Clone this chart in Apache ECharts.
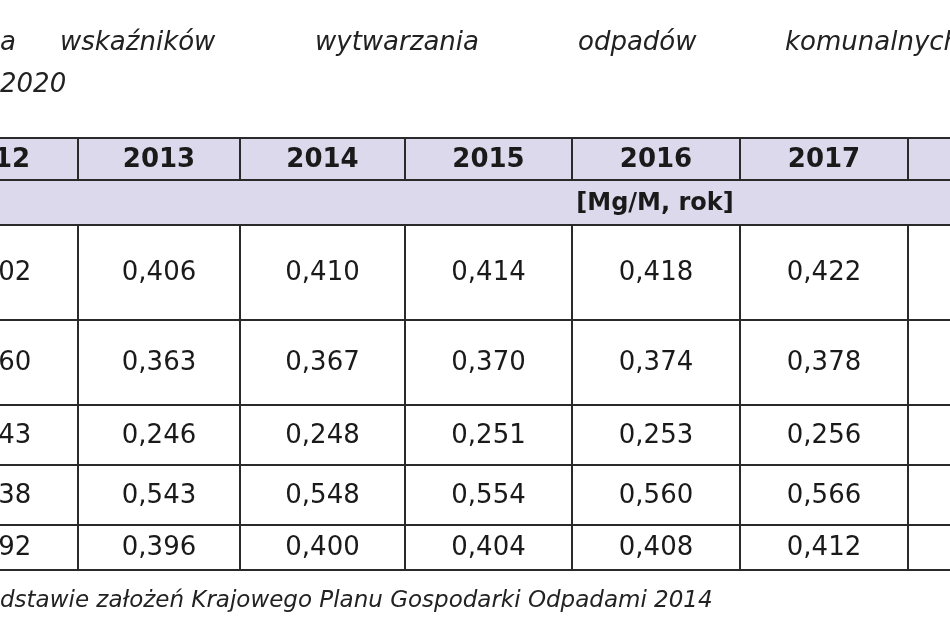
<!DOCTYPE html>
<html><head><meta charset="utf-8">
<script src="https://cdn.jsdelivr.net/npm/echarts@6/dist/echarts.min.js"></script>
<style>html,body{margin:0;background:#fff}#c{width:950px;height:632px}</style>
</head><body><div id="c"></div>
<script>
// --- table data ---
const years = ['2012', '2013', '2014', '2015', '2016', '2017', '2018'];
const unitLabel = '[Mg/M, rok]';
const row1 = ['0,402', '0,406', '0,410', '0,414', '0,418', '0,422', '0,426'];
const row2 = ['0,360', '0,363', '0,367', '0,370', '0,374', '0,378', '0,382'];
const row3 = ['0,243', '0,246', '0,248', '0,251', '0,253', '0,256', '0,258'];
const row4 = ['0,538', '0,543', '0,548', '0,554', '0,560', '0,566', '0,572'];
const row5 = ['0,392', '0,396', '0,400', '0,404', '0,408', '0,412', '0,416'];
const titleWords = ['a', 'wskaźników', 'wytwarzania', 'odpadów', 'komunalnych'];
const titleLine2 = '2020';
const footer = 'dstawie założeń Krajowego Planu Gospodarki Odpadami 2014';

// layout of the grid in axis units
const colEdges = [-90, 78, 240, 405, 572, 740, 908, 1076];
const rowEdges = [138, 180, 225, 320, 405, 465, 525, 570];

const cells = [];
years.forEach((y, c) => cells.push([c, 0, y, 'head']));
cells.push([-1, 1, unitLabel, 'unit']);
[row1, row2, row3, row4, row5].forEach((r, i) =>
  r.forEach((v, c) => cells.push([c, i + 2, v, 'data'])));

const lav = '#dcd9ec';
const chart = echarts.init(document.getElementById('c'));
chart.setOption({
  animation: false,
  grid: { left: 0, right: 0, top: 0, bottom: 0 },
  xAxis: { type: 'value', min: 0, max: 950, show: false },
  yAxis: { type: 'value', min: 0, max: 632, inverse: true, show: false },
  series: [{
    type: 'custom',
    data: cells,
    renderItem: (params, api) => {
      const c = api.value(0), r = api.value(1), kind = cells[params.dataIndex][3];
      const text = cells[params.dataIndex][2];
      const x0 = c < 0 ? colEdges[0] : colEdges[c];
      const x1 = c < 0 ? colEdges[colEdges.length - 1] : colEdges[c + 1];
      const p0 = api.coord([x0, rowEdges[r]]), p1 = api.coord([x1, rowEdges[r + 1]]);
      const cx = kind === 'unit' ? api.coord([655, 0])[0] : (p0[0] + p1[0]) / 2;
      return {
        type: 'group',
        children: [
          { type: 'rect', shape: { x: p0[0], y: p0[1], width: p1[0] - p0[0], height: p1[1] - p0[1] },
            style: { fill: kind === 'data' ? '#fff' : lav, stroke: '#2a2a2a', lineWidth: 2 } },
          { type: 'text', style: { text: text, x: cx, y: (p0[1] + p1[1]) / 2 + 1,
              align: 'center', verticalAlign: 'middle', fill: '#1a1a1a',
              font: (kind === 'data' ? '' : 'bold ') + (kind === 'unit' ? '24px' : '26px') + ' "DejaVu Sans"' } }
        ]
      };
    }
  }],
  graphic: [
    { type: 'text', left: 0, top: 30, style: { text: titleWords[0], font: 'italic 26px "DejaVu Sans"', fill: '#222' } },
    { type: 'text', left: 60, top: 30, style: { text: titleWords[1], font: 'italic 26px "DejaVu Sans"', fill: '#222' } },
    { type: 'text', left: 315, top: 30, style: { text: titleWords[2], font: 'italic 26px "DejaVu Sans"', fill: '#222' } },
    { type: 'text', left: 578, top: 30, style: { text: titleWords[3], font: 'italic 26px "DejaVu Sans"', fill: '#222' } },
    { type: 'text', left: 785, top: 30, style: { text: titleWords[4], font: 'italic 26px "DejaVu Sans"', fill: '#222' } },
    { type: 'text', left: 0, top: 72, style: { text: titleLine2, font: 'italic 26px "DejaVu Sans"', fill: '#222' } },
    { type: 'text', left: 0, top: 590, style: { text: footer, font: 'italic 23px "DejaVu Sans"', fill: '#222' } }
  ]
});
</script></body></html>
